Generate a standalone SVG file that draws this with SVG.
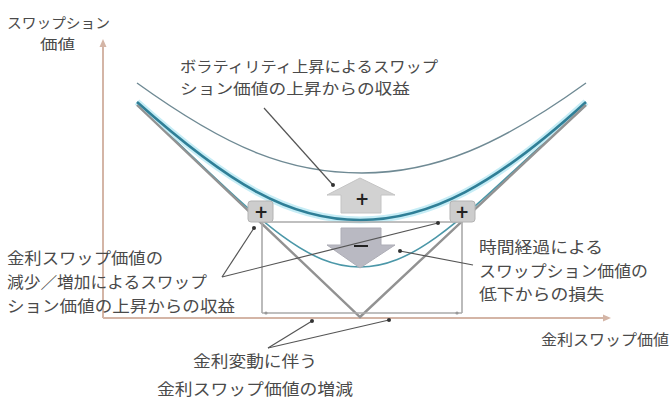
<svg xmlns="http://www.w3.org/2000/svg" width="672" height="403" viewBox="0 0 672 403">
<style>
.t{font-family:"Noto Sans CJK JP","Noto Sans",sans-serif;fill:#4a4a4a;font-size:16px;}
.ax{stroke:#d4b5a6;stroke-width:2;fill:none;}
.ld{stroke:#555;stroke-width:1.2;fill:none;}
.dot{fill:#333;}
.dim{stroke:#aaa;stroke-width:1.6;fill:none;}
.box{fill:#cdcdcd;stroke:#b3b3b3;stroke-width:1;}
.sym{font-family:"DejaVu Sans",sans-serif;font-weight:bold;fill:#222;font-size:17px;text-anchor:middle;}
</style>
<rect width="672" height="403" fill="#ffffff"/>
<g id="axes">
<line class="ax" x1="103" y1="42" x2="103" y2="318"/>
<path d="M99.5,47 L103,39 L106.5,47 Z" fill="#d4b5a6"/>
<line class="ax" x1="103" y1="318" x2="606" y2="318"/>
<path d="M603,314.5 L611,318 L603,321.5 Z" fill="#d4b5a6"/>
</g>
<g id="curves">
<path d="M137,83 C230,150 290,173 362,173 C435,173 500,145 586,83" fill="none" stroke="#6f8a94" stroke-width="1.4"/>
<path d="M137,104 C250,210 300,267 360,267 C420,267 470,210 586,104" fill="none" stroke="#4b97a8" stroke-width="1.6"/>
<path d="M137,102 C230,185 290,220 360,220 C430,220 495,185 586,102" fill="none" stroke="#c6edf6" stroke-width="7"/>
<path d="M137,102 C230,185 290,220 360,220 C430,220 495,185 586,102" fill="none" stroke="#2f7f97" stroke-width="2.6"/>
</g>
<g id="payoff">
<polyline points="137,105 360,317 586,105" fill="none" stroke="#929292" stroke-width="2.4"/>
</g>
<g id="dimension">
<line class="dim" x1="262" y1="222" x2="462" y2="222"/>
<line class="dim" x1="262" y1="222" x2="262" y2="313"/>
<line class="dim" x1="462" y1="222" x2="462" y2="313"/>
<line class="dim" x1="262" y1="313" x2="462" y2="313"/>
<circle cx="266" cy="313" r="1.6" fill="#999"/>
<circle cx="457" cy="313" r="1.6" fill="#999"/>
</g>
<g id="up-arrow">
<path d="M360,178 L395,195 L381,195 L381,213 L341,213 L341,195 L327,195 Z" fill="#d2d2d2" stroke="#c4c4c4" stroke-width="1"/>
<text class="sym" x="362" y="205">+</text>
</g>
<g id="down-arrow">
<path d="M341,228 L381,228 L381,245 L395,245 L360,268 L327,245 L341,245 Z" fill="#b9b9c2" stroke="#adadb6" stroke-width="1"/>
</g>
<g id="plus-left">
<rect class="box" x="248" y="201" width="25" height="21" rx="3"/>
<text class="sym" x="261" y="218">+</text>
</g>
<g id="plus-right">
<rect class="box" x="450" y="201" width="25" height="21" rx="3"/>
<text class="sym" x="462" y="218">+</text>
</g>
<g id="connectors">
<line class="ld" x1="264" y1="108" x2="333" y2="185"/>
<circle class="dot" cx="333" cy="185" r="2"/>
<line class="ld" x1="222" y1="277" x2="254" y2="228"/>
<circle class="dot" cx="254" cy="228" r="2"/>
<line class="ld" x1="222" y1="277" x2="438" y2="223"/>
<circle class="dot" cx="438" cy="223" r="2"/>
<line class="ld" x1="473" y1="265" x2="400" y2="251"/>
<circle class="dot" cx="400" cy="251" r="2"/>
<line class="ld" x1="268" y1="348" x2="312" y2="321"/>
<circle class="dot" cx="312" cy="321" r="2"/>
<line class="ld" x1="268" y1="348" x2="389" y2="320"/>
<circle class="dot" cx="389" cy="320" r="2"/>
</g>
<g id="minus">
<line x1="354" y1="246" x2="368" y2="246" stroke="#222" stroke-width="2"/>
</g>
<g id="label-yaxis">
<text class="t" style="font-size:14px" x="7" y="28" textLength="103" lengthAdjust="spacingAndGlyphs">スワップション</text>
<text class="t" style="font-size:14px" x="40" y="49" textLength="35" lengthAdjust="spacingAndGlyphs">価値</text>
</g>
<g id="label-xaxis">
<text class="t" style="font-size:15px" x="541" y="345" textLength="128" lengthAdjust="spacingAndGlyphs">金利スワップ価値</text>
</g>
<g id="label-vol">
<text class="t" style="font-size:15px" x="180" y="71.5" textLength="258" lengthAdjust="spacingAndGlyphs">ボラティリティ上昇によるスワップ</text>
<text class="t" style="font-size:15px" x="180" y="94" textLength="230" lengthAdjust="spacingAndGlyphs">ション価値の上昇からの収益</text>
</g>
<g id="label-left">
<text class="t" x="7" y="264" textLength="156" lengthAdjust="spacingAndGlyphs">金利スワップ価値の</text>
<text class="t" x="7" y="288" textLength="200" lengthAdjust="spacingAndGlyphs">減少／増加によるスワップ</text>
<text class="t" x="7" y="311.5" textLength="228" lengthAdjust="spacingAndGlyphs">ション価値の上昇からの収益</text>
</g>
<g id="label-right">
<text class="t" x="479" y="253" textLength="124" lengthAdjust="spacingAndGlyphs">時間経過による</text>
<text class="t" x="479" y="276.5" textLength="169" lengthAdjust="spacingAndGlyphs">スワップション価値の</text>
<text class="t" x="479" y="300" textLength="125" lengthAdjust="spacingAndGlyphs">低下からの損失</text>
</g>
<g id="label-bottom">
<text class="t" x="193" y="367" textLength="124" lengthAdjust="spacingAndGlyphs">金利変動に伴う</text>
<text class="t" x="157" y="395" textLength="196" lengthAdjust="spacingAndGlyphs">金利スワップ価値の増減</text>
</g>
</svg>
